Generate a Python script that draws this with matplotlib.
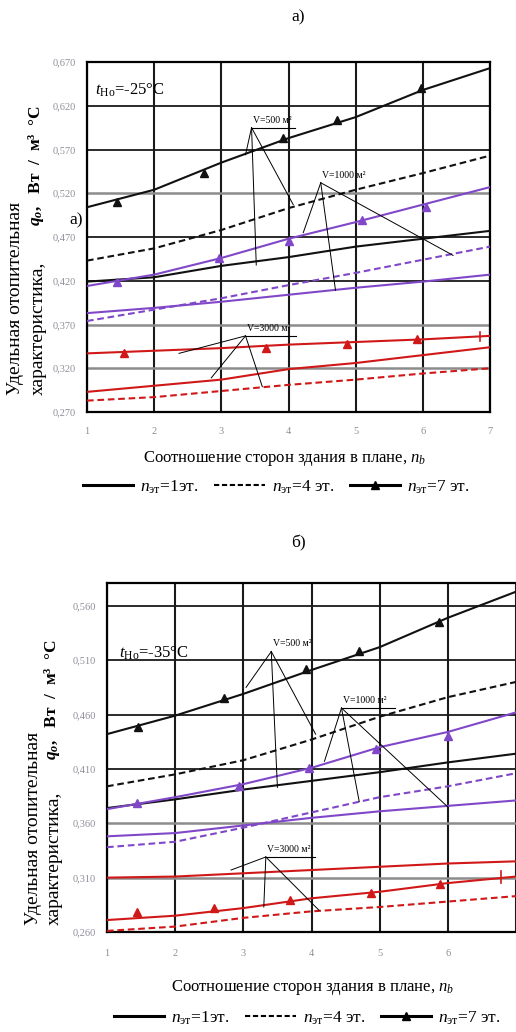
import matplotlib
matplotlib.use("Agg")
import matplotlib.pyplot as plt
from matplotlib.lines import Line2D

plt.rcParams['font.family'] = ['Liberation Serif', 'DejaVu Serif']
plt.rcParams['mathtext.fontset'] = 'custom'
plt.rcParams['mathtext.rm'] = 'Liberation Serif'
plt.rcParams['mathtext.it'] = 'Liberation Serif:italic'
plt.rcParams['mathtext.bf'] = 'Liberation Serif:bold:italic'

# ---------------- data ----------------
nb = [1, 2, 3, 4, 5, 6, 7]

# panel a (t = -25 C)
a_v500_n1 = [0.419, 0.424, 0.437, 0.447, 0.459, 0.468, 0.477]
a_v500_n4 = [0.443, 0.457, 0.478, 0.503, 0.524, 0.543, 0.563]
a_v500_n7 = [0.504, 0.524, 0.555, 0.583, 0.607, 0.638, 0.663]
a_v500_n7_mx = [1.45, 2.74, 3.92, 4.72, 5.98]
a_v500_n7_my = [0.510, 0.543, 0.583, 0.604, 0.640]

a_v1000_n1 = [0.383, 0.389, 0.396, 0.404, 0.412, 0.419, 0.427]
a_v1000_n4 = [0.374, 0.387, 0.400, 0.415, 0.429, 0.444, 0.459]
a_v1000_n7 = [0.414, 0.427, 0.446, 0.468, 0.487, 0.507, 0.527]
a_v1000_n7_mx = [1.45, 2.97, 4.0, 5.1, 6.05]
a_v1000_n7_my = [0.419, 0.446, 0.466, 0.489, 0.504]

a_v3000_n1 = [0.293, 0.300, 0.307, 0.319, 0.326, 0.335, 0.344]
a_v3000_n4 = [0.283, 0.287, 0.294, 0.301, 0.307, 0.314, 0.320]
a_v3000_n7 = [0.337, 0.340, 0.343, 0.347, 0.350, 0.353, 0.357]
a_v3000_n7_mx = [1.55, 3.66, 4.87, 5.91]
a_v3000_n7_my = [0.338, 0.343, 0.348, 0.354]

# panel b (t = -35 C)
b_v500_n1 = [0.374, 0.382, 0.391, 0.399, 0.407, 0.416, 0.424]
b_v500_n4 = [0.394, 0.405, 0.418, 0.437, 0.458, 0.476, 0.490]
b_v500_n7 = [0.442, 0.459, 0.479, 0.501, 0.522, 0.549, 0.573]
b_v500_n7_mx = [1.46, 2.72, 3.92, 4.70, 5.87]
b_v500_n7_my = [0.449, 0.475, 0.502, 0.518, 0.545]

b_v1000_n1 = [0.348, 0.351, 0.358, 0.365, 0.371, 0.376, 0.381]
b_v1000_n4 = [0.338, 0.343, 0.356, 0.370, 0.384, 0.394, 0.406]
b_v1000_n7 = [0.373, 0.384, 0.396, 0.411, 0.430, 0.444, 0.462]
b_v1000_n7_mx = [1.44, 2.93, 3.97, 4.95, 6.0]
b_v1000_n7_my = [0.379, 0.394, 0.411, 0.428, 0.440]

b_v3000_n1 = [0.310, 0.311, 0.314, 0.317, 0.320, 0.323, 0.325]
b_v3000_n4 = [0.261, 0.265, 0.273, 0.279, 0.283, 0.288, 0.293]
b_v3000_n7 = [0.271, 0.275, 0.282, 0.291, 0.297, 0.305, 0.311]
b_v3000_n7_mx = [1.44, 2.57, 3.68, 4.88, 5.88]
b_v3000_n7_my = [0.278, 0.282, 0.289, 0.296, 0.304]

a_yticks = [0.270, 0.320, 0.370, 0.420, 0.470, 0.520, 0.570, 0.620, 0.670]
b_yticks = [0.260, 0.310, 0.360, 0.410, 0.460, 0.510, 0.560]
xticks = [1, 2, 3, 4, 5, 6, 7]
a_xticklabels = ['1', '2', '3', '4', '5', '6', '7']
b_xticklabels = ['1', '2', '3', '4', '5', '6', '']

BLACK = '#111111'
PURPLE = '#8048c8'
RED = '#d01818'
GRIDC = '#1a1a1a'
GRAYC = '#8c8c8c'
TICKC = '#8e8e9a'

fig = plt.figure(figsize=(5.16, 10.32), dpi=100)

def fmt(v):
    return f"{v:.3f}".replace('.', ',')

def panel(ax, yticks, ylim, xlim, gray_lines, series, annots, t_text, t_pos,
          xlab_pos, leg_pos, tick_pad_x, xticklabels):
    ax.set_xlim(*xlim)
    ax.set_ylim(*ylim)
    for xv in xticks:
        ax.axvline(xv, color=GRIDC, lw=1.5, zorder=1)
    for yv in yticks:
        c = GRAYC if yv in gray_lines else GRIDC
        ax.axhline(yv, color=c, lw=1.8 if yv in gray_lines else 1.3, zorder=1)
    for ys, col, ls, mx, my in series:
        ax.plot(nb, ys, color=col, ls=ls, lw=1.5, zorder=3,
                dashes=(3.2, 1.8) if ls == '--' else (None, None))
        if mx is not None:
            ax.plot(mx, my, ls='none', marker='^', ms=5.5, color=col, zorder=4)
    for label, apex, ends, uline in annots:
        ax.text(apex[0] + 0.02, apex[1] + 0.003, label, fontsize=7,
                ha='left', va='bottom', zorder=5)
        if uline:
            ax.plot([apex[0], apex[0] + uline], [apex[1], apex[1]],
                    color='black', lw=0.8, zorder=5)
        for e in ends:
            ax.plot([apex[0], e[0]], [apex[1], e[1]], color='black', lw=0.7, zorder=5)
    ax.text(t_pos[0], t_pos[1], t_text, transform=ax.transAxes, fontsize=12,
            ha='left', va='center', zorder=6)
    ax.set_xticks(xticks)
    ax.set_xticklabels(xticklabels)
    ax.set_yticks(yticks)
    ax.set_yticklabels([fmt(v) for v in yticks])
    ax.tick_params(axis='both', length=0, labelsize=7.5, labelcolor=TICKC)
    ax.tick_params(axis='y', pad=8)
    ax.tick_params(axis='x', pad=tick_pad_x)
    for s in ax.spines.values():
        s.set_color('black')
        s.set_linewidth(1.6)
    ax.set_xlabel('Соотношение сторон здания в плане, $n_b$', fontsize=12)
    ax.xaxis.set_label_coords(*xlab_pos)
    handles = [Line2D([], [], color='black', lw=2.2),
               Line2D([], [], color='black', lw=1.5, ls='--', dashes=(2.5, 1.3)),
               Line2D([], [], color='black', lw=2.2, marker='^', ms=6)]
    labels = [r'$n_{\mathrm{эт}}$=1эт.', r'$n_{\mathrm{эт}}$=4 эт.',
              r'$n_{\mathrm{эт}}$=7 эт.']
    ax.legend(handles, labels, loc='center', bbox_to_anchor=leg_pos, ncol=3,
              frameon=False, fontsize=12.5, handlelength=2.9, columnspacing=0.9,
              handletextpad=0.4)

# ---------------- panel a ----------------
axa = fig.add_axes([87 / 516, 1 - 412 / 1032, 403 / 516, 350 / 1032])
series_a = [
    (a_v500_n1, BLACK, '-', None, None),
    (a_v500_n4, BLACK, '--', None, None),
    (a_v500_n7, BLACK, '-', a_v500_n7_mx, a_v500_n7_my),
    (a_v1000_n1, PURPLE, '-', None, None),
    (a_v1000_n4, PURPLE, '--', None, None),
    (a_v1000_n7, PURPLE, '-', a_v1000_n7_mx, a_v1000_n7_my),
    (a_v3000_n1, RED, '-', None, None),
    (a_v3000_n4, RED, '--', None, None),
    (a_v3000_n7, RED, '-', a_v3000_n7_mx, a_v3000_n7_my),
]
annots_a = [
    ('V=500 м²', (3.45, 0.595), [(3.36, 0.564), (4.07, 0.507), (3.52, 0.438)], 0.65),
    ('V=1000 м²', (4.48, 0.532), [(4.22, 0.475), (4.70, 0.409), (6.45, 0.449)], 0.0),
    ('V=3000 м²', (3.36, 0.357), [(2.37, 0.337), (2.85, 0.309), (3.61, 0.299)], 0.75),
]
panel(axa, a_yticks, (0.270, 0.670), (1, 7), [0.520, 0.370, 0.320], series_a,
      annots_a, r'$t_{\mathrm{Но}}$=-25°C', (0.02, 0.92), (0.49, -0.105),
      (0.47, -0.215), 10.5, a_xticklabels)
axa.plot([6.85, 6.85], [0.351, 0.362], color=RED, lw=1.2, zorder=4)

# ---------------- panel b ----------------
axb = fig.add_axes([107 / 516, 1 - 932 / 1032, 409 / 516, 349 / 1032])
series_b = [
    (b_v500_n1, BLACK, '-', None, None),
    (b_v500_n4, BLACK, '--', None, None),
    (b_v500_n7, BLACK, '-', b_v500_n7_mx, b_v500_n7_my),
    (b_v1000_n1, PURPLE, '-', None, None),
    (b_v1000_n4, PURPLE, '--', None, None),
    (b_v1000_n7, PURPLE, '-', b_v1000_n7_mx, b_v1000_n7_my),
    (b_v3000_n1, RED, '-', None, None),
    (b_v3000_n4, RED, '--', None, None),
    (b_v3000_n7, RED, '-', b_v3000_n7_mx, b_v3000_n7_my),
]
annots_b = [
    ('V=500 м²', (3.41, 0.518), [(3.04, 0.485), (4.06, 0.442), (3.50, 0.393)], 0.0),
    ('V=1000 м²', (4.44, 0.466), [(4.19, 0.417), (4.70, 0.380), (6.0, 0.375)], 0.78),
    ('V=3000 м²', (3.33, 0.329), [(2.82, 0.317), (3.30, 0.283), (4.11, 0.280)], 0.72),
]
panel(axb, b_yticks, (0.260, 0.581), (1, 6.91), [0.360, 0.310, 0.260], series_b,
      annots_b, r'$t_{\mathrm{Но}}$=-35°C', (0.03, 0.80), (0.504, -0.132),
      (0.49, -0.247), 12, b_xticklabels)
axb.spines['right'].set_visible(False)
axb.plot([6.78, 6.78], [0.305, 0.316], color=RED, lw=1.2, zorder=4)

# ---------------- titles / labels ----------------
fig.text(298 / 516, 1 - 17 / 1032, 'а)', fontsize=12.5, ha='center', va='center')
fig.text(298 / 516, 1 - 543 / 1032, 'б)', fontsize=12.5, ha='center', va='center')
fig.text(76 / 516, 1 - 220 / 1032, 'а)', fontsize=12.5, ha='center', va='center')

def ylabel(x1, x2, xq, ybot, yq):
    fig.text(x1 / 516, 1 - ybot / 1032, 'Удельная отопительная', rotation=90,
             fontsize=14, ha='center', va='bottom')
    fig.text(x2 / 516, 1 - ybot / 1032, 'характеристика,', rotation=90,
             fontsize=14, ha='center', va='bottom')
    fig.text(xq / 516, 1 - yq / 1032, r'$\mathbf{q_o}$,   Вт  /  м³  °С', rotation=90,
             fontsize=12.5, fontweight='bold', ha='center', va='bottom')

ylabel(16, 38, 36, 395, 226)
ylabel(34, 54, 52, 925, 760)

fig.savefig('out.png', dpi=100)
